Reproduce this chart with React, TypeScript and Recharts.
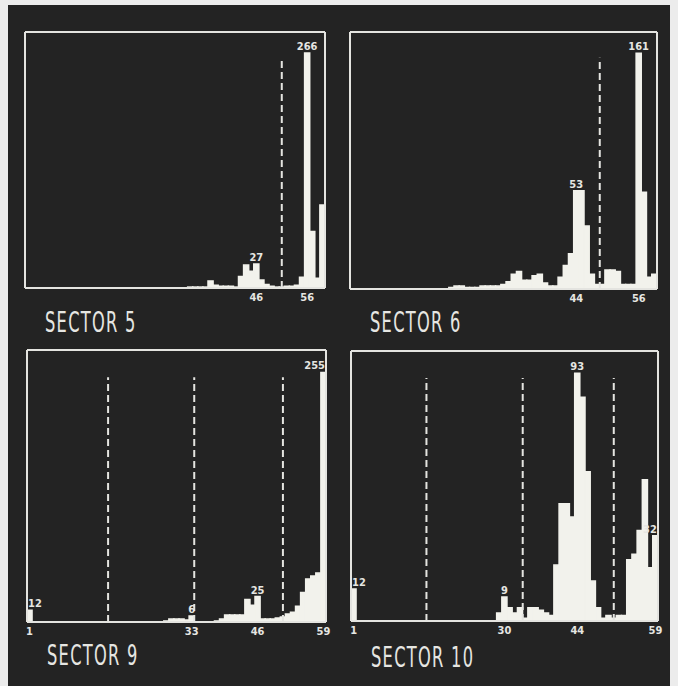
import { Bar, BarChart, LabelList, ReferenceLine, XAxis, YAxis } from "recharts";

// histogram bins shown on every sector panel
const BINS = [
  1, 2, 3, 4, 5, 6, 7, 8, 9, 10, 11, 12, 13, 14, 15, 16, 17, 18, 19, 20,
  21, 22, 23, 24, 25, 26, 27, 28, 29, 30, 31, 32, 33, 34, 35, 36, 37, 38, 39, 40,
  41, 42, 43, 44, 45, 46, 47, 48, 49, 50, 51, 52, 53, 54, 55, 56, 57, 58, 59,
];

// counts per bin
const SECTOR_5 = [
  0, 0, 0, 0, 0, 0, 0, 0, 0, 0, 0, 0, 0, 0, 0, 0, 0, 0, 0, 0,
  0, 0, 0, 0, 0, 0, 0, 0, 0, 0, 0, 0, 1, 1, 1, 1, 8, 3, 2, 2,
  2, 1, 13, 26, 19, 27, 9, 4, 2, 1, 1, 2, 2, 3, 12, 266, 64, 11, 94,
];
const SECTOR_6 = [
  0, 0, 0, 0, 0, 0, 0, 0, 0, 0, 0, 0, 0, 0, 0, 0, 0, 0, 0, 1,
  2, 2, 1, 1, 1, 2, 2, 2, 2, 3, 5, 10, 12, 6, 6, 9, 10, 4, 2, 2,
  8, 16, 24, 67, 67, 43, 10, 3, 3, 13, 13, 12, 3, 3, 3, 161, 66, 8, 10,
];
const SECTOR_9 = [
  12, 0, 0, 0, 0, 0, 0, 0, 0, 0, 0, 0, 0, 0, 0, 0, 0, 0, 0, 0,
  0, 0, 0, 0, 0, 0, 0, 1, 3, 3, 3, 2, 6, 0, 0, 0, 0, 1, 3, 7,
  7, 7, 7, 23, 17, 26, 3, 3, 3, 4, 5, 8, 10, 16, 30, 44, 47, 50, 255,
];
const SECTOR_10 = [
  12, 0, 0, 0, 0, 0, 0, 0, 0, 0, 0, 0, 0, 0, 0, 0, 0, 0, 0, 0,
  0, 0, 0, 0, 0, 0, 0, 0, 3, 9, 5, 3, 5, 1, 5, 5, 4, 3, 2, 21,
  44, 44, 39, 93, 84, 56, 15, 5, 1, 2, 1, 2, 2, 23, 25, 34, 53, 20, 32,
];

// bin numbers printed under each axis
const SECTOR_5_TICKS = [46, 56];
const SECTOR_6_TICKS = [44, 56];
const SECTOR_9_TICKS = [1, 33, 46, 59];
const SECTOR_10_TICKS = [1, 30, 44, 59];

// dashed limits, in bin units (x.5 = between two bins)
const SECTOR_5_MARKS = [51];
const SECTOR_6_MARKS = [48.5];
const SECTOR_9_MARKS = [16.5, 33.5, 51];
const SECTOR_10_MARKS = [15, 33.5, 51];

// numbers written over the peaks
const SECTOR_5_PEAK_BINS = [46, 56];
const SECTOR_5_PEAK_TEXT = ["27", "266"];
const SECTOR_6_PEAK_BINS = [44, 56];
const SECTOR_6_PEAK_TEXT = ["53", "161"];
const SECTOR_9_PEAK_BINS = [1, 33, 46, 59];
const SECTOR_9_PEAK_TEXT = ["12", "6", "25", "255"];
const SECTOR_10_PEAK_BINS = [1, 30, 44, 59];
const SECTOR_10_PEAK_TEXT = ["12", "9", "93", "32"];

const BG = "#232323";
const PAPER = "#ececec";
const INK = "#f2f2ec";
const FRAME = "#e4e4e0";
const TEXT = "#e6e6e2";
const FONT = "'DejaVu Sans Condensed', 'Liberation Sans Narrow', sans-serif";

const HEADROOM = 1.09; // tallest bar stops a bit under the frame
const DASH_REACH = 0.9;

type Frame = { left: number; top: number; width: number; height: number };

type Panel = {
  title: string;
  values: number[];
  ticks: number[];
  marks: number[];
  peakBins: number[];
  peakText: string[];
  frame: Frame;
  titleAt: { left: number; top: number };
};

const PANELS: Panel[] = [
  {
    title: "SECTOR 5",
    values: SECTOR_5,
    ticks: SECTOR_5_TICKS,
    marks: SECTOR_5_MARKS,
    peakBins: SECTOR_5_PEAK_BINS,
    peakText: SECTOR_5_PEAK_TEXT,
    frame: { left: 25, top: 32, width: 300, height: 256 },
    titleAt: { left: 45, top: 306 },
  },
  {
    title: "SECTOR 6",
    values: SECTOR_6,
    ticks: SECTOR_6_TICKS,
    marks: SECTOR_6_MARKS,
    peakBins: SECTOR_6_PEAK_BINS,
    peakText: SECTOR_6_PEAK_TEXT,
    frame: { left: 350, top: 32, width: 307, height: 257 },
    titleAt: { left: 370, top: 306 },
  },
  {
    title: "SECTOR 9",
    values: SECTOR_9,
    ticks: SECTOR_9_TICKS,
    marks: SECTOR_9_MARKS,
    peakBins: SECTOR_9_PEAK_BINS,
    peakText: SECTOR_9_PEAK_TEXT,
    frame: { left: 27, top: 350, width: 299, height: 272 },
    titleAt: { left: 47, top: 639 },
  },
  {
    title: "SECTOR 10",
    values: SECTOR_10,
    ticks: SECTOR_10_TICKS,
    marks: SECTOR_10_MARKS,
    peakBins: SECTOR_10_PEAK_BINS,
    peakText: SECTOR_10_PEAK_TEXT,
    frame: { left: 351, top: 351, width: 307, height: 270 },
    titleAt: { left: 371, top: 641 },
  },
];

type Anchor = "start" | "middle" | "end";

// one label renderer per alignment; edge bins hug the frame like the original
function makePeakLabel(anchor: Anchor) {
  return function PeakLabel(props: any) {
    const { value } = props;
    if (!value) return null;
    const x = Number(props.x);
    const y = Number(props.y);
    const w = Number(props.width);
    const tx = anchor === "start" ? x + 1 : anchor === "end" ? x + w - 1 : x + w / 2;
    return (
      <text
        x={tx}
        y={y - 3}
        textAnchor={anchor}
        style={{ textAnchor: anchor }}
        fill={TEXT}
        fontSize={11}
        fontWeight={700}
        fontFamily={FONT}
      >
        {value}
      </text>
    );
  };
}

const StartLabel = makePeakLabel("start");
const MiddleLabel = makePeakLabel("middle");
const EndLabel = makePeakLabel("end");

const M = { top: 14, right: 12, bottom: 0, left: 12 };
const AXIS_H = 22;

function SectorChart({ p }: { p: Panel }) {
  const first = BINS[0];
  const last = BINS[BINS.length - 1];
  const data = BINS.map((bin, i) => {
    const k = p.peakBins.indexOf(bin);
    const text = k >= 0 ? p.peakText[k] : "";
    return {
      bin,
      count: p.values[i],
      peakStart: bin === first ? text : "",
      peakEnd: bin === last ? text : "",
      peak: bin !== first && bin !== last ? text : "",
    };
  });
  const yMax = Math.max(...p.values) * HEADROOM;
  const frameLine = { stroke: FRAME, strokeWidth: 2 };

  return (
    <div style={{ position: "absolute", left: p.frame.left - M.left, top: p.frame.top - M.top }}>
      <BarChart
        width={p.frame.width + M.left + M.right}
        height={p.frame.height + M.top + AXIS_H}
        data={data}
        margin={M}
        barCategoryGap={0}
        barGap={0}
      >
        <XAxis
          dataKey="bin"
          ticks={p.ticks}
          interval={0}
          height={AXIS_H}
          axisLine={frameLine}
          tickLine={false}
          tickSize={0}
          tickMargin={5}
          tick={{ fill: TEXT, fontSize: 11, fontWeight: 700, fontFamily: FONT }}
        />
        <YAxis hide domain={[0, yMax]} allowDataOverflow />
        {/* frame */}
        <ReferenceLine y={yMax} {...frameLine} />
        <ReferenceLine x={first} position="start" {...frameLine} />
        <ReferenceLine x={last} position="end" {...frameLine} />
        {p.marks.map((m) => {
          const half = m % 1 !== 0;
          const bin = half ? m - 0.5 : m;
          return (
            <ReferenceLine
              key={m}
              segment={[
                { x: bin, y: 0 },
                { x: bin, y: yMax * DASH_REACH },
              ]}
              position={half ? "end" : "middle"}
              stroke={FRAME}
              strokeWidth={2}
              strokeDasharray="7 4"
            />
          );
        })}
        <Bar dataKey="count" fill={INK} stroke={INK} strokeWidth={1.6} isAnimationActive={false}>
          <LabelList dataKey="peak" content={MiddleLabel} />
          <LabelList dataKey="peakStart" content={StartLabel} />
          <LabelList dataKey="peakEnd" content={EndLabel} />
        </Bar>
      </BarChart>
      <div
        style={{
          position: "absolute",
          left: p.titleAt.left - p.frame.left + M.left,
          top: p.titleAt.top - p.frame.top + M.top,
          color: TEXT,
          fontFamily: FONT,
          fontSize: 28,
          lineHeight: "34px",
          whiteSpace: "nowrap",
          letterSpacing: 2,
          transform: "scaleX(0.645)",
          transformOrigin: "left top",
        }}
      >
        {p.title}
      </div>
    </div>
  );
}

export default function App() {
  return (
    <div
      style={{
        position: "absolute",
        left: 0,
        top: 0,
        width: 678,
        height: 686,
        background: PAPER,
        overflow: "hidden",
      }}
    >
      <div style={{ position: "absolute", left: 8, top: 5, width: 662, height: 681, background: BG }} />
      {PANELS.map((p) => (
        <SectorChart key={p.title} p={p} />
      ))}
    </div>
  );
}
